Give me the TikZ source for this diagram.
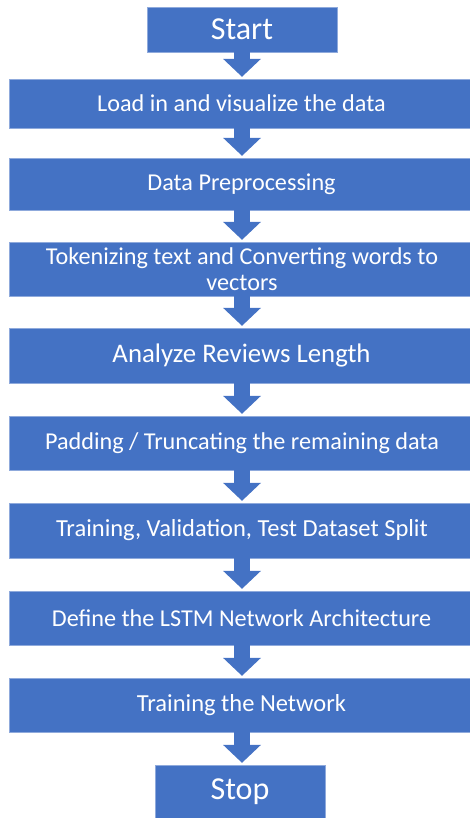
\documentclass[tikz,border=0pt]{standalone}
\usepackage{fontspec}
\setmainfont{Carlito}
\usetikzlibrary{arrows.meta}
\definecolor{stepblue}{HTML}{4472C4}
\definecolor{stepedge}{HTML}{8FAADC}
\newcommand{\fsz}[1]{\fontsize{#1}{26pt}\selectfont}
\tikzset{
  stepbox/.style={fill=stepblue, draw=stepedge, line width=0.4pt, text=white,
    inner sep=0pt, align=center, minimum width=465pt, font=\fsz{24.2pt}},
  endbox/.style={stepbox, font=\fsz{32pt}},
  flowarrow/.style={draw=stepblue, line width=16pt,
    -{Triangle[width=38pt,length=18pt,line width=0pt]}},
}
\begin{document}
\begin{tikzpicture}[x=1pt,y=-1pt]
\path[use as bounding box] (0,0) rectangle (470,818);

\node[endbox, minimum width=190pt, minimum height=45pt] (start) at (242,29.5) {Start};
\node[stepbox, minimum height=49pt] (load) at (241.5,103.5) {Load in and visualize the data};
\node[stepbox, minimum height=52pt] (prep) at (241.5,184) {Data Preprocessing};
\node[stepbox, minimum height=54pt] (token) at (242,269) {Tokenizing text and Converting words to\\vectors};
\node[stepbox, minimum height=55pt, font=\fsz{26.8pt}] (length) at (241.5,355.5) {Analyze Reviews Length};
\node[stepbox, minimum height=54pt] (pad) at (242,443) {Padding / Truncating the remaining data};
\node[stepbox, minimum height=55pt, font=\fsz{24.5pt}] (split) at (242,530.5) {Training, Validation, Test Dataset Split};
\node[stepbox, minimum height=54pt] (lstm) at (241.5,618) {Define the LSTM Network Architecture};
\node[stepbox, minimum height=54pt, font=\fsz{24.5pt}] (train) at (241.5,705) {Training the Network};
\node[endbox, minimum width=170pt, minimum height=53pt] (stop) at (240,791.5) {Stop};

\foreach \a/\b in {start/load, load/prep, prep/token, token/length, length/pad,
                   pad/split, split/lstm, lstm/train, train/stop}
  \draw[flowarrow] (\a.south -| 242,0) -- ([yshift=2pt]\b.north -| 242,0);
\end{tikzpicture}
\end{document}
